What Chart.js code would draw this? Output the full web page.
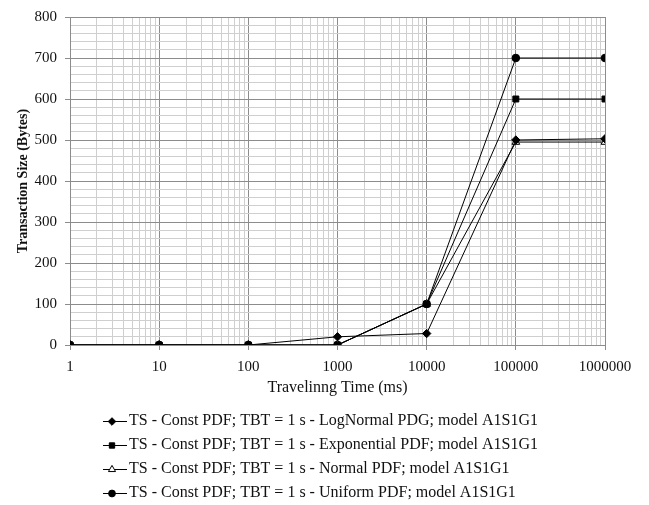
<!DOCTYPE html>
<html>
<head>
<meta charset="utf-8">
<script src="https://cdn.jsdelivr.net/npm/chart.js@4.4.1/dist/chart.umd.min.js"></script>
<style>
    html, body { margin: 0; padding: 0; background: #fff; }
    #box { width: 649px; height: 505px; }
</style>
</head>
<body>
<div id="box"><canvas id="sizeChart"></canvas></div>
<script>
// values
const travelTimes = [1, 10, 100, 1000, 10000, 100000, 1000000];
const logNormalSizes = [0, 0, 0, 20, 28, 500, 503];
const exponentialSizes = [0, 0, 0, 0, 100, 600, 600];
const normalSizes = [0, 0, 0, 0, 100, 495, 495];
const uniformSizes = [0, 0, 0, 0, 100, 700, 700];

const seriesNames = [
    'TS - Const PDF; TBT = 1 s - LogNormal PDG; model A1S1G1',
    'TS - Const PDF; TBT = 1 s - Exponential PDF; model A1S1G1',
    'TS - Const PDF; TBT = 1 s - Normal PDF; model A1S1G1',
    'TS - Const PDF; TBT = 1 s - Uniform PDF; model A1S1G1',
];
const xTickLabels = ['1', '10', '100', '1000', '10000', '100000', '1000000'];
const yTickLabels = ['0', '100', '200', '300', '400', '500', '600', '700', '800'];

const serif = "'Liberation Serif', 'Times New Roman', serif";
const majorGrid = '#8c8c8c';
const minorGrid = '#cfcfcf';

// marker looks per series
const markers = [
    { style: 'rectRot', radius: 4.2, fill: '#000' },
    { style: 'rect', radius: 4.2, fill: '#000' },
    { style: 'triangle', radius: 4.5, fill: '#fff' },
    { style: 'circle', radius: 3.8, fill: '#000' },
];

// legend icon: short line with marker, drawn into a little canvas
// (the canvas is a bit wider than the legend box so the line reaches the text)
const iconWidth = 105;
const iconCanvasWidth = 117;
function legendIcon(m) {
    const c = document.createElement('canvas');
    c.width = iconCanvasWidth;
    c.height = 14;
    const g = c.getContext('2d');
    g.strokeStyle = '#000';
    g.lineWidth = 1;
    g.beginPath();
    g.moveTo(iconCanvasWidth - 24, 7.5);
    g.lineTo(iconCanvasWidth, 7.5);
    g.stroke();
    g.fillStyle = m.fill;
    Chart.helpers.drawPoint(g, { pointStyle: m.style, radius: m.radius - 0.4, borderWidth: 1, rotation: 0 }, iconCanvasWidth - 15, 7.5);
    return c;
}

const seriesData = [logNormalSizes, exponentialSizes, normalSizes, uniformSizes];

const datasets = seriesData.map((vals, i) => ({
    label: seriesNames[i],
    data: travelTimes.map((t, j) => ({ x: t, y: vals[j] })),
    borderColor: '#000',
    borderWidth: 1,
    pointStyle: markers[i].style,
    pointRadius: markers[i].radius,
    pointBackgroundColor: markers[i].fill,
    pointBorderColor: '#000',
    pointBorderWidth: 1,
    tension: 0,
}));

const isDecade = v => xTickLabels.includes(String(v));

new Chart(document.getElementById('sizeChart'), {
    type: 'line',
    data: { datasets },
    options: {
        responsive: true,
        maintainAspectRatio: false,
        animation: false,
        layout: { padding: { left: 8, right: 44, top: 16, bottom: -6 } },
        scales: {
            x: {
                type: 'logarithmic',
                min: travelTimes[0],
                max: travelTimes[travelTimes.length - 1],
                afterBuildTicks: axis => {
                    // 1..9 per decade for the fine grid
                    const ticks = [];
                    for (let d = 0; d < travelTimes.length - 1; d++) {
                        for (let k = 1; k <= 9; k++) ticks.push({ value: travelTimes[d] * k });
                    }
                    ticks.push({ value: travelTimes[travelTimes.length - 1] });
                    axis.ticks = ticks;
                },
                afterFit: axis => { axis.height = 60; },
                ticks: {
                    autoSkip: false,
                    maxRotation: 0,
                    padding: 8,
                    color: '#111',
                    font: { family: serif, size: 15 },
                    callback: v => (isDecade(v) ? String(v) : ''),
                },
                grid: {
                    color: c => (c.tick && isDecade(c.tick.value) ? majorGrid : minorGrid),
                    tickColor: c => (c.tick && isDecade(c.tick.value) ? majorGrid : 'rgba(0,0,0,0)'),
                    tickLength: 5,
                    lineWidth: 1,
                },
                border: { color: majorGrid },
                title: {
                    display: true,
                    text: 'Travelinng Time (ms)',
                    color: '#111',
                    font: { family: serif, size: 16 },
                    padding: { top: 2, bottom: 8 },
                },
            },
            y: {
                min: 0,
                max: 800,
                afterFit: axis => { axis.width = 62; },
                ticks: {
                    stepSize: 20,
                    autoSkip: false,
                    padding: 8,
                    color: '#111',
                    font: { family: serif, size: 15 },
                    callback: v => (yTickLabels.includes(String(v)) ? String(v) : ''),
                },
                grid: {
                    color: c => (c.tick && c.tick.value % 100 === 0 ? majorGrid : minorGrid),
                    tickColor: c => (c.tick && c.tick.value % 100 === 0 ? majorGrid : 'rgba(0,0,0,0)'),
                    tickLength: 5,
                    lineWidth: 1,
                },
                border: { color: majorGrid },
                title: {
                    display: true,
                    text: 'Transaction Size (Bytes)',
                    color: '#111',
                    font: { family: serif, size: 14, weight: 'bold' },
                    padding: { top: 7, bottom: 0 },
                },
            },
        },
        plugins: {
            legend: {
                position: 'bottom',
                align: 'start',
                labels: {
                    usePointStyle: true,
                    pointStyleWidth: iconWidth,
                    padding: 8,
                    color: '#111',
                    font: { family: serif, size: 16 },
                    generateLabels: chart => {
                        const items = Chart.defaults.plugins.legend.labels.generateLabels(chart);
                        items.forEach((it, i) => { it.pointStyle = legendIcon(markers[i]); });
                        return items;
                    },
                },
            },
            tooltip: { enabled: false },
        },
    },
});
</script>
</body>
</html>
